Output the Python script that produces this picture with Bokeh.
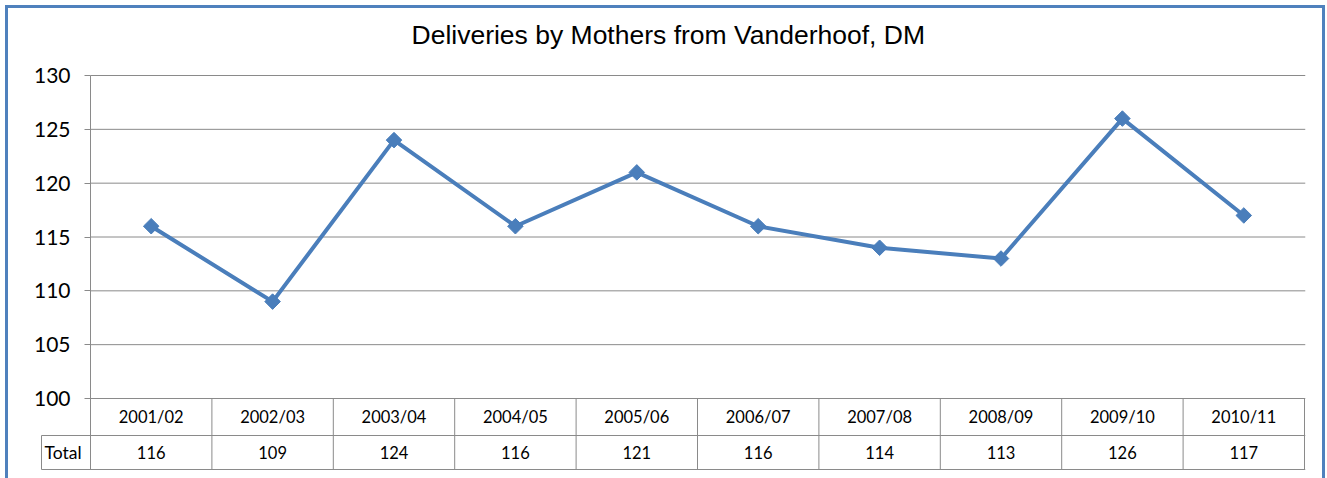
import numpy as np
from bokeh.plotting import figure
from bokeh.models import (Range1d, FixedTicker, ColumnDataSource, LinearAxis, Title)
from bokeh.core.properties import value
from bokeh.embed import file_html
from bokeh.resources import INLINE

# ---- data ----
categories = ["2001/02", "2002/03", "2003/04", "2004/05", "2005/06",
              "2006/07", "2007/08", "2008/09", "2009/10", "2010/11"]
totals = [116, 109, 124, 116, 121, 116, 114, 113, 126, 117]
y_ticks = [100, 105, 110, 115, 120, 125, 130]
row_label = "Total"
title_text = "Deliveries by Mothers from Vanderhoof, DM"

# ---- layout (pixels, page coordinates) ----
OFF = 8                      # figure placed at (8, 8) on the page
W, H = 1314, 470
FRAME_L, FRAME_R = 20, 1305  # page x of frame left / right edge
AXIS_X = 90                  # page x of value axis / table left edge
FRAME_T, FRAME_B = 60, 470   # page y of frame top / bottom
Y_TOP_PX = 75                # page y of the top gridline
PLOT_H = 323.0               # height from 100 to 130
ROW1_H, ROW2_H = 37.0, 34.0
CELL_L = 41                  # page x of "Total" cell left edge
TITLE_LEFT = 411             # page x where the title starts
BLUE = "#4A7EBB"
BORDER = "#4F81BD"
GRID = "#8A8A8A"
TABLE = "#8A8A8A"
TXT_FONT = "Lato"

LEFT = FRAME_L - OFF
TOP = FRAME_T - OFF
RIGHT_PAD = W - (FRAME_R - OFF)
BOTTOM = H - (FRAME_B - OFF)

n = len(categories)
unit = PLOT_H / (y_ticks[-1] - y_ticks[0])
frame_h = FRAME_B - FRAME_T
y_hi = y_ticks[-1] + (Y_TOP_PX - FRAME_T) / unit
y_lo = y_hi - frame_h / unit
y_row = y_ticks[0] - ROW1_H / unit
y_bot = y_row - ROW2_H / unit

cat_px = (FRAME_R - AXIS_X - 1) / n
x_hi = n - 0.5 + 1.0 / cat_px


def x_px(px):
    return -0.5 + (px - AXIS_X) / cat_px


x_lo = x_px(FRAME_L)
x0 = -0.5
x_cell = x_px(CELL_L)

xs = list(range(n))

p = figure(width=W, height=H,
           x_range=Range1d(x_lo, x_hi), y_range=Range1d(y_lo, y_hi),
           output_backend="svg", toolbar_location=None,
           x_axis_location=None, y_axis_location=None,
           min_border_left=LEFT, min_border_right=RIGHT_PAD,
           min_border_top=TOP, min_border_bottom=BOTTOM,
           outline_line_color=None, background_fill_color="white",
           border_fill_color="white")
p.xgrid.visible = False
p.ygrid.visible = False

p.styles = {"outline": "3px solid " + BORDER,
            "margin-left": "%dpx" % OFF, "margin-top": "%dpx" % OFF}

# title (with a small empty spacer title between it and the plot)
p.add_layout(Title(text=" ", text_font_size="8px", standoff=0), "above")
p.title.text = title_text
p.title.align = "left"
p.title.offset = TITLE_LEFT - FRAME_L
p.title.text_font = "Liberation Sans"
p.title.text_font_size = "26.5px"
p.title.text_font_style = "normal"
p.title.text_color = "black"
p.title.standoff = 0

# horizontal gridlines (value axis levels)
p.segment(x0=[x0] * len(y_ticks), y0=y_ticks, x1=[x_hi] * len(y_ticks), y1=y_ticks,
          line_color=GRID, line_width=1)

# value axis, anchored at the table's left edge
yax = LinearAxis(fixed_location=x0, ticker=FixedTicker(ticks=y_ticks),
                 bounds=(y_bot, y_ticks[-1]))
yax.axis_line_color = TABLE
yax.major_tick_line_color = TABLE
yax.major_tick_out = 6
yax.major_tick_in = 0
yax.minor_tick_line_color = None
yax.major_label_text_font = TXT_FONT
yax.major_label_text_font_size = "21px"
yax.major_label_text_color = "black"
yax.major_label_standoff = 14
p.add_layout(yax, "left")

# data table grid
edges = [i + 0.5 for i in xs]
p.segment(x0=edges, y0=[y_ticks[0]] * n, x1=edges, y1=[y_bot] * n,
          line_color=TABLE, line_width=1)
p.segment(x0=[x_cell, x_cell], y0=[y_row, y_bot], x1=[x_hi, x_hi], y1=[y_row, y_bot],
          line_color=TABLE, line_width=1)
p.segment(x0=[x_cell], y0=[y_row], x1=[x_cell], y1=[y_bot],
          line_color=TABLE, line_width=1)

# table texts
y_c1 = (y_ticks[0] + y_row) / 2
y_c2 = (y_row + y_bot) / 2
p.text(x=xs, y=[y_c1] * n, text=categories, text_align="center",
       text_baseline="middle", text_font=value(TXT_FONT),
       text_font_size="16.5px", text_color="black")
p.text(x=xs, y=[y_c2] * n, text=[str(v) for v in totals], text_align="center",
       text_baseline="middle", text_font=value(TXT_FONT),
       text_font_size="16.5px", text_color="black")
p.text(x=[x_px(CELL_L + 3)], y=[y_c2], text=[row_label], text_align="left",
       text_baseline="middle", text_font=value(TXT_FONT),
       text_font_size="17.5px", text_color="black")

# series
src = ColumnDataSource(dict(x=xs, y=totals))
p.line("x", "y", source=src, line_color=BLUE, line_width=4)
p.scatter("x", "y", source=src, marker="square", angle=np.pi / 4, size=11,
          fill_color=BLUE, line_color=BLUE)

open("out.html", "w").write(file_html(p, INLINE))
